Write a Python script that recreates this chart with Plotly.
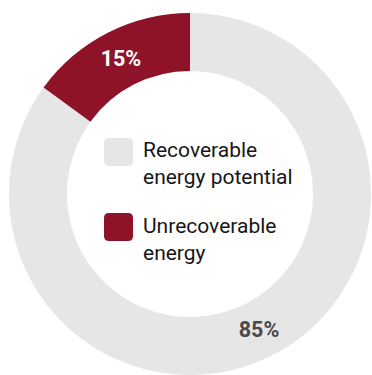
import plotly.graph_objects as go

# Share of energy, in percent
categories = ["Recoverable energy potential", "Unrecoverable energy"]
legend_labels = ["Recoverable<br>energy potential", "Unrecoverable<br>energy"]
values = [85, 15]
colors = ["#E6E6E6", "#8E1328"]
text_colors = ["#4A4A4A", "#FFFFFF"]

W, H = 372, 375


def px_x(x):
    return x / W


def px_y(y):
    return 1 - y / H


def rounded_rect(x0, y0, x1, y1, r):
    """SVG path of a rounded rectangle given in pixel coordinates."""
    pts = [
        f"M {px_x(x0 + r)},{px_y(y0)}",
        f"L {px_x(x1 - r)},{px_y(y0)}",
        f"Q {px_x(x1)},{px_y(y0)} {px_x(x1)},{px_y(y0 + r)}",
        f"L {px_x(x1)},{px_y(y1 - r)}",
        f"Q {px_x(x1)},{px_y(y1)} {px_x(x1 - r)},{px_y(y1)}",
        f"L {px_x(x0 + r)},{px_y(y1)}",
        f"Q {px_x(x0)},{px_y(y1)} {px_x(x0)},{px_y(y1 - r)}",
        f"L {px_x(x0)},{px_y(y0 + r)}",
        f"Q {px_x(x0)},{px_y(y0)} {px_x(x0 + r)},{px_y(y0)}",
        "Z",
    ]
    return " ".join(pts)


fig = go.Figure(
    go.Pie(
        labels=categories,
        values=values,
        sort=False,
        direction="clockwise",
        rotation=0,
        hole=0.68,
        marker=dict(colors=colors, line=dict(width=0)),
        texttemplate="%{value}%",
        textposition="inside",
        insidetextorientation="horizontal",
        textfont=dict(family="Roboto", size=21.5, color=text_colors, weight="bold"),
        domain=dict(x=[9 / W, 371 / W], y=[0, 1 - 13 / H]),
        showlegend=False,
        hoverinfo="label+percent",
    )
)

# Legend inside the hole: rounded swatches with two-line labels
swatch_top = [138, 213]
label_mid = [163, 239]
shapes = []
annotations = []
for top, mid, col, lab in zip(swatch_top, label_mid, colors, legend_labels):
    shapes.append(
        dict(
            type="path",
            xref="paper",
            yref="paper",
            path=rounded_rect(104, top, 133, top + 28, 5),
            fillcolor=col,
            line=dict(width=0),
        )
    )
    annotations.append(
        dict(
            text=lab,
            x=px_x(141),
            y=px_y(mid),
            xref="paper",
            yref="paper",
            xanchor="left",
            yanchor="middle",
            align="left",
            showarrow=False,
            font=dict(family="Roboto", size=21, color="#161616"),
        )
    )

fig.update_layout(
    width=W,
    height=H,
    margin=dict(l=0, r=0, t=0, b=0),
    paper_bgcolor="white",
    plot_bgcolor="white",
    shapes=shapes,
    annotations=annotations,
)

fig.write_html("out.html")
